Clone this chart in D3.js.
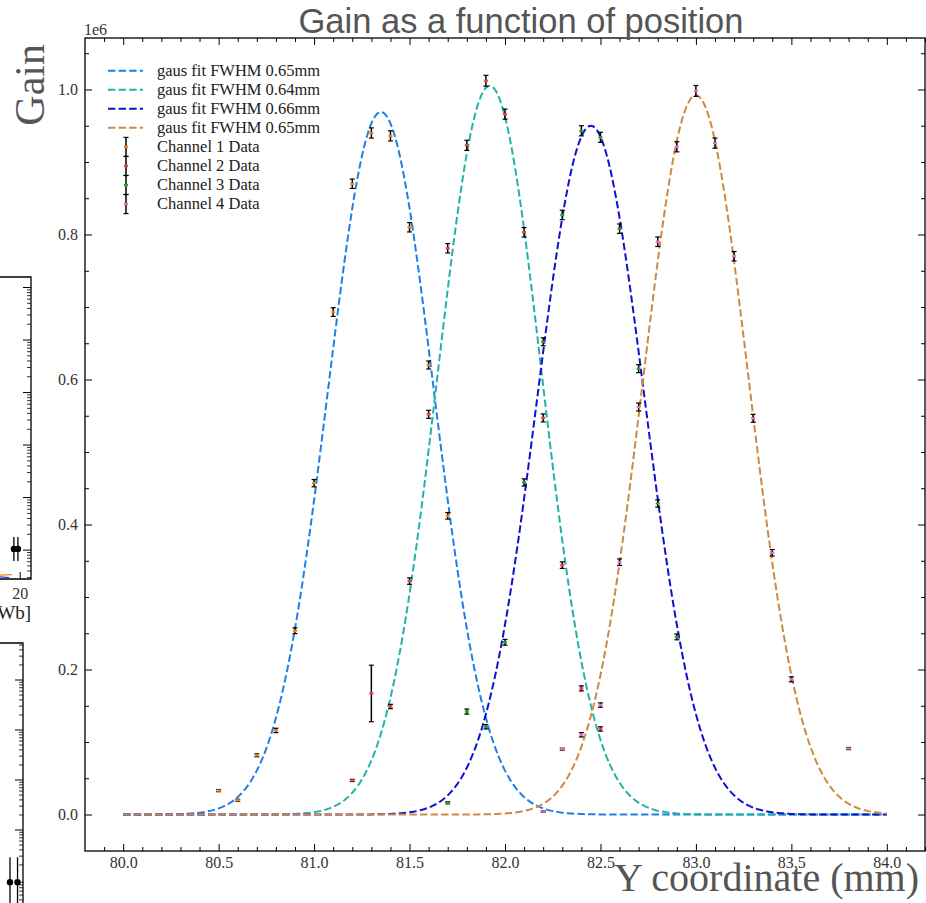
<!DOCTYPE html>
<html><head><meta charset="utf-8">
<script src="https://cdn.jsdelivr.net/npm/d3@7/dist/d3.min.js"></script>
<style>body{margin:0;background:#fff}svg{display:block}</style>
</head><body>
<svg id="chart" width="926" height="903"></svg>
<script>
// ---------------- DATA ----------------
const xTickValues = [80.0, 80.5, 81.0, 81.5, 82.0, 82.5, 83.0, 83.5, 84.0];
const yTickValues = [0, 200000, 400000, 600000, 800000, 1000000];
const yOffsetLabel = "1e6";

const fitLabels = ["gaus fit FWHM 0.65mm", "gaus fit FWHM 0.64mm", "gaus fit FWHM 0.66mm", "gaus fit FWHM 0.65mm"];
const fitCenters = [81.35, 81.92, 82.45, 83.00];
const fitAmplitudes = [969000, 1005000, 950000, 992000];
const fitFWHM = [0.65, 0.64, 0.66, 0.65];
const fitRange = [80.0, 84.0];

const channelLabels = ["Channel 1  Data", "Channel 2  Data", "Channel 3  Data", "Channel 4  Data"];

const ch1X = [80.5, 80.6, 80.7, 80.8, 80.9, 81.0, 81.1, 81.2, 81.3, 81.4, 81.5, 81.6, 81.7];
const ch1Y = [33000, 19600, 81700, 116000, 253500, 457000, 693000, 870000, 940000, 936000, 810000, 620000, 412000];
const ch1Err = [1500, 1500, 2000, 3000, 4000, 5000, 6000, 6500, 7000, 7000, 6500, 5500, 4500];

const ch2X = [81.2, 81.3, 81.4, 81.5, 81.6, 81.7, 81.8, 81.9, 82.0, 82.1, 82.2, 82.3, 82.4, 82.5];
const ch2Y = [47000, 167000, 149000, 322000, 552000, 781000, 923000, 1012000, 966000, 803000, 547000, 344000, 174000, 118000];
const ch2Err = [1500, 39000, 3000, 4500, 5500, 6500, 7000, 7500, 7000, 6500, 5500, 4500, 3500, 3000];

const ch3X = [81.7, 81.8, 81.9, 82.0, 82.1, 82.2, 82.3, 82.4, 82.5, 82.6, 82.7, 82.8, 82.9];
const ch3Y = [16300, 142000, 121000, 237500, 458000, 652000, 827000, 943000, 934000, 808000, 615000, 429000, 245000];
const ch3Err = [1500, 3500, 3000, 4000, 5000, 5500, 6500, 7000, 7000, 6500, 5500, 5000, 4000];

const ch4X = [82.2, 82.3, 82.4, 82.5, 82.6, 82.7, 82.8, 82.9, 83.0, 83.1, 83.2, 83.3, 83.4, 83.5, 83.8];
const ch4Y = [4000, 90000, 110000, 151000, 348000, 562000, 790000, 921000, 998000, 926000, 770000, 546500, 361000, 186500, 91000];
const ch4Err = [1000, 1500, 3000, 3000, 4500, 5500, 6500, 7000, 7500, 7000, 6500, 5500, 4500, 3500, 1500];

// fragments of neighbouring panels (cropped at the left edge)
const sideATicks = [1, 10, 100, 1000, 10000, 100000];
const sideAPointX = [19.3, 19.75];
const sideAPointY = [1.05, 1.05];
const sideBTicks = [1, 10, 100, 1000];
const sideBPointX = [19.77, 20.6];
const sideBPointY = [0.09, 0.09];

// ---------------- STYLE ----------------
const fitColors = ["#1f7fe8", "#22b3a8", "#1010d2", "#cd8a45"];
const channelColors = ["#ff7f0e", "#e8443a", "#2ca02c", "#e36fc2"];
const serif = "'Liberation Serif','Times New Roman',Times,serif";
const sans = "'Liberation Sans',Arial,Helvetica,sans-serif";

const svg = d3.select("#chart");
const M = {left: 85, right: 925, top: 38, bottom: 851};

const x = d3.scaleLinear().domain([79.8, 84.2]).range([M.left, M.right]);
const y = d3.scaleLinear().domain([-50300, 1071000]).range([M.bottom, M.top]);

// ---------------- side fragments ----------------
(function sideFragments(){
  const g = svg.append("g").attr("stroke", "#000").attr("fill", "none");
  // panel A
  const xa = d3.scaleLinear().domain([0, 21.2]).range([-160, 31]);
  const ya = d3.scaleLog().domain([Math.pow(10, -0.55), Math.pow(10, 5.2)]).range([579, 277]);
  g.append("path").attr("d", `M0,${ya.range()[1]}H${xa(21.2)}V${ya.range()[0]}H0`).attr("stroke-width", 1.3);
  const minorA = [];
  for (let e = -1; e <= 5; e++) for (let k = 2; k <= 9; k++) { const v = k * Math.pow(10, e); if (v > ya.domain()[0] && v < ya.domain()[1]) minorA.push(v); }
  g.selectAll(".am").data(minorA).join("line").attr("x1", xa(21.2)).attr("x2", xa(21.2) - 4).attr("y1", d => ya(d)).attr("y2", d => ya(d)).attr("stroke-width", 0.8);
  g.selectAll(".aM").data(sideATicks).join("line").attr("x1", xa(21.2)).attr("x2", xa(21.2) - 8).attr("y1", d => ya(d)).attr("y2", d => ya(d)).attr("stroke-width", 1);
  g.append("line").attr("x1", xa(20)).attr("x2", xa(20)).attr("y1", 579).attr("y2", 572).attr("stroke-width", 1);
  g.append("line").attr("x1", xa(0)).attr("x2", xa(19.1)).attr("y1", ya(0.28)).attr("y2", ya(0.34)).attr("stroke", "#f08a24").attr("stroke-width", 1.2);
  g.append("line").attr("x1", xa(0)).attr("x2", xa(18.8)).attr("y1", ya(0.55)).attr("y2", ya(0.30)).attr("stroke", "#2340e0").attr("stroke-width", 1.2);
  sideAPointX.forEach((px, i) => {
    g.append("line").attr("x1", xa(px)).attr("x2", xa(px)).attr("y1", ya(sideAPointY[i]) - 12).attr("y2", ya(sideAPointY[i]) + 12).attr("stroke-width", 1.3);
    g.append("circle").attr("cx", xa(px)).attr("cy", ya(sideAPointY[i])).attr("r", 3.2).attr("fill", "#000").attr("stroke", "none");
  });
  svg.append("text").attr("x", xa(20)).attr("y", 599).attr("text-anchor", "middle").attr("font-family", serif).attr("font-size", 16).attr("fill", "#333").text("20");
  svg.append("text").attr("x", 31).attr("y", 619).attr("text-anchor", "end").attr("font-family", serif).attr("font-size", 19).attr("fill", "#222").text("Wb]");

  // panel B
  const xb = d3.scaleLinear().domain([0, 21.2]).range([-170, 23]);
  const yb = d3.scaleLog().domain([Math.pow(10, -1.9), Math.pow(10, 3.74)]).range([925, 643]);
  g.append("path").attr("d", `M0,643H${xb(21.2)}V903`).attr("stroke-width", 1.3);
  const minorB = [];
  for (let e = -2; e <= 3; e++) for (let k = 2; k <= 9; k++) { const v = k * Math.pow(10, e); if (v > yb.domain()[0] && v < yb.domain()[1]) minorB.push(v); }
  g.selectAll(".bm").data(minorB).join("line").attr("x1", xb(21.2)).attr("x2", xb(21.2) - 4).attr("y1", d => yb(d)).attr("y2", d => yb(d)).attr("stroke-width", 0.8);
  g.selectAll(".bM").data(sideBTicks).join("line").attr("x1", xb(21.2)).attr("x2", xb(21.2) - 8).attr("y1", d => yb(d)).attr("y2", d => yb(d)).attr("stroke-width", 1);
  sideBPointX.forEach((px, i) => {
    g.append("line").attr("x1", xb(px)).attr("x2", xb(px)).attr("y1", yb(sideBPointY[i]) - 25).attr("y2", yb(sideBPointY[i]) + 25).attr("stroke-width", 1.3);
    g.append("circle").attr("cx", xb(px)).attr("cy", yb(sideBPointY[i])).attr("r", 3.2).attr("fill", "#000").attr("stroke", "none");
  });
})();

// ---------------- axes ----------------
function minorList(lo, hi, step, majors) {
  const out = [];
  const n = Math.round((hi - lo) / step);
  for (let i = 0; i <= n; i++) {
    const v = +(lo + i * step).toFixed(6);
    if (!majors.some(m => Math.abs(m - v) < step / 10)) out.push(v);
  }
  return out;
}
const xMinor = minorList(79.9, 84.2, 0.1, xTickValues);
const yMinor = minorList(0, 1050000, 50000, yTickValues);

function styleAxis(g) {
  g.select(".domain").remove();
  g.selectAll(".tick line").attr("stroke", "#000").attr("stroke-width", 1);
  g.selectAll("text").attr("font-family", serif).attr("font-size", 16).attr("fill", "#333");
}
const axes = svg.append("g");
axes.append("g").attr("transform", `translate(0,${M.bottom})`)
  .call(d3.axisBottom(x).tickValues(xTickValues).tickSize(-7).tickPadding(6).tickFormat(d3.format(".1f"))).call(styleAxis);
axes.append("g").attr("transform", `translate(0,${M.bottom})`)
  .call(d3.axisBottom(x).tickValues(xMinor).tickSize(-4).tickFormat("")).call(styleAxis);
axes.append("g").attr("transform", `translate(0,${M.top})`)
  .call(d3.axisTop(x).tickValues(xTickValues).tickSize(-7).tickFormat("")).call(styleAxis);
axes.append("g").attr("transform", `translate(0,${M.top})`)
  .call(d3.axisTop(x).tickValues(xMinor).tickSize(-4).tickFormat("")).call(styleAxis);
axes.append("g").attr("transform", `translate(${M.left},0)`)
  .call(d3.axisLeft(y).tickValues(yTickValues).tickSize(-7).tickPadding(7).tickFormat(d => (d / 1e6).toFixed(1))).call(styleAxis);
axes.append("g").attr("transform", `translate(${M.left},0)`)
  .call(d3.axisLeft(y).tickValues(yMinor).tickSize(-4).tickFormat("")).call(styleAxis);
axes.append("g").attr("transform", `translate(${M.right},0)`)
  .call(d3.axisRight(y).tickValues(yTickValues).tickSize(-7).tickFormat("")).call(styleAxis);
axes.append("g").attr("transform", `translate(${M.right},0)`)
  .call(d3.axisRight(y).tickValues(yMinor).tickSize(-4).tickFormat("")).call(styleAxis);

svg.append("rect").attr("x", M.left).attr("y", M.top).attr("width", M.right - M.left).attr("height", M.bottom - M.top)
  .attr("fill", "none").attr("stroke", "#000").attr("stroke-width", 1.3);

// ---------------- fits ----------------
svg.append("clipPath").attr("id", "plotclip").append("rect")
  .attr("x", M.left).attr("y", M.top).attr("width", M.right - M.left).attr("height", M.bottom - M.top);
const plot = svg.append("g").attr("clip-path", "url(#plotclip)");
const line = d3.line().x(d => x(d[0])).y(d => y(d[1]));
const sampleX = d3.range(0, 401).map(i => fitRange[0] + i * (fitRange[1] - fitRange[0]) / 400);
fitCenters.forEach((c, i) => {
  const sigma = fitFWHM[i] / (2 * Math.sqrt(2 * Math.LN2));
  const pts = sampleX.map(xx => [xx, fitAmplitudes[i] * Math.exp(-((xx - c) ** 2) / (2 * sigma * sigma))]);
  plot.append("path").datum(pts).attr("d", line).attr("fill", "none")
    .attr("stroke", fitColors[i]).attr("stroke-width", 2).attr("stroke-dasharray", "7.4,3.2");
});

// ---------------- data with error bars ----------------
const channels = [[ch1X, ch1Y, ch1Err], [ch2X, ch2Y, ch2Err], [ch3X, ch3Y, ch3Err], [ch4X, ch4Y, ch4Err]];
channels.forEach(([xs, ys, es], ci) => {
  const data = xs.map((v, i) => ({x: v, y: ys[i], e: es[i]}));
  const g = plot.append("g");
  const pt = g.selectAll("g").data(data).join("g");
  pt.append("line").attr("x1", d => x(d.x)).attr("x2", d => x(d.x))
    .attr("y1", d => y(d.y - d.e)).attr("y2", d => y(d.y + d.e)).attr("stroke", "#000").attr("stroke-width", 1.5);
  pt.append("line").attr("x1", d => x(d.x) - 2.5).attr("x2", d => x(d.x) + 2.5)
    .attr("y1", d => y(d.y - d.e)).attr("y2", d => y(d.y - d.e)).attr("stroke", "#000").attr("stroke-width", 1.2);
  pt.append("line").attr("x1", d => x(d.x) - 2.5).attr("x2", d => x(d.x) + 2.5)
    .attr("y1", d => y(d.y + d.e)).attr("y2", d => y(d.y + d.e)).attr("stroke", "#000").attr("stroke-width", 1.2);
  pt.append("rect").attr("x", d => x(d.x) - 2).attr("y", d => y(d.y) - 1.2).attr("width", 4).attr("height", 2.4)
    .attr("fill", channelColors[ci]);
});

// ---------------- text ----------------
svg.append("text").attr("x", 521).attr("y", 33).attr("text-anchor", "middle")
  .attr("font-family", sans).attr("font-size", 34.5).attr("fill", "#555").text("Gain as a function of position");
svg.append("text").attr("x", M.left - 1).attr("y", M.top - 3).attr("font-family", serif).attr("font-size", 16)
  .attr("fill", "#333").text(yOffsetLabel);
svg.append("text").attr("transform", `translate(44,${M.top + 6}) rotate(-90)`).attr("text-anchor", "end")
  .attr("font-family", serif).attr("font-size", 42).attr("fill", "#555").text("Gain");
svg.append("text").attr("x", M.right - 6).attr("y", 891).attr("text-anchor", "end")
  .attr("font-family", serif).attr("font-size", 40).attr("fill", "#555").text("Y coordinate (mm)");

// ---------------- legend ----------------
const legend = svg.append("g");
const rowY = i => 70.7 + i * 19.05;
fitLabels.forEach((t, i) => {
  legend.append("line").attr("x1", 108).attr("x2", 143).attr("y1", rowY(i)).attr("y2", rowY(i))
    .attr("stroke", fitColors[i]).attr("stroke-width", 2).attr("stroke-dasharray", "7.4,3.2");
  legend.append("text").attr("x", 157).attr("y", rowY(i)).attr("dy", "0.33em").attr("font-family", serif)
    .attr("font-size", 16.5).attr("fill", "#222").text(t);
});
channelLabels.forEach((t, j) => {
  const i = j + fitLabels.length, cy = rowY(i);
  legend.append("line").attr("x1", 126).attr("x2", 126).attr("y1", cy - 9.5).attr("y2", cy + 9.5).attr("stroke", "#000").attr("stroke-width", 1.5);
  [cy - 9.5, cy + 9.5].forEach(yy => legend.append("line").attr("x1", 123.5).attr("x2", 128.5).attr("y1", yy).attr("y2", yy).attr("stroke", "#000").attr("stroke-width", 1.2));
  legend.append("rect").attr("x", 124).attr("y", cy - 1.2).attr("width", 4).attr("height", 2.4).attr("fill", channelColors[j]);
  legend.append("text").attr("x", 157).attr("y", cy).attr("dy", "0.33em").attr("font-family", serif)
    .attr("font-size", 16.5).attr("fill", "#222").text(t);
});
</script>
</body></html>
